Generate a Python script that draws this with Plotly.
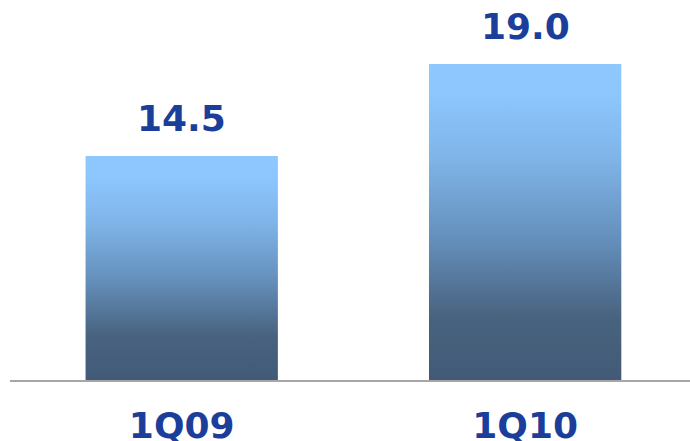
import plotly.graph_objects as go

# Quarterly values
categories = ["1Q09", "1Q10"]
values = [14.5, 19.0]
value_labels = ["14.5", "19.0"]

# Styling
label_color = "#1B3E9B"
font_family = "DejaVu Sans, Verdana, sans-serif"
axis_floor = 3.54          # value axis starts above zero
bar_width = 0.56
gradient = [
    [0.0, "#425A77"],
    [0.2, "#48637F"],
    [0.45, "#6590BC"],
    [0.7, "#7FB4E8"],
    [0.9, "#8CC6FD"],
    [1.0, "#8EC8FF"],
]

fig = go.Figure()

for i, (cat, v) in enumerate(zip(categories, values)):
    left, right = i - bar_width / 2, i + bar_width / 2
    fig.add_trace(go.Scatter(
        x=[left, right, right, left, left],
        y=[axis_floor, axis_floor, v, v, axis_floor],
        mode="lines",
        line=dict(width=0),
        fill="toself",
        fillgradient=dict(type="vertical", colorscale=gradient),
        name=cat,
        hoverinfo="skip",
        showlegend=False,
    ))
    fig.add_annotation(
        x=i, y=v, text=f"<b>{value_labels[i]}</b>",
        showarrow=False, yanchor="bottom", yshift=15,
        font=dict(family=font_family, size=36, color=label_color),
    )

fig.update_layout(
    width=690, height=441,
    margin=dict(l=0, r=0, t=0, b=61),
    paper_bgcolor="white", plot_bgcolor="white",
    showlegend=False,
    xaxis=dict(
        domain=[10 / 690, 1],
        range=[-0.5, 1.48],
        tickvals=list(range(len(categories))),
        ticktext=[f"<b>{c}</b>" for c in categories],
        tickfont=dict(family=font_family, size=36, color=label_color),
        ticks="outside", ticklen=13, tickcolor="rgba(0,0,0,0)",
        automargin=False,
        showline=True, linecolor="#A6A6A6", linewidth=2,
        showgrid=False, zeroline=False, fixedrange=True,
    ),
    yaxis=dict(
        range=[axis_floor, 22.13],
        visible=False, showgrid=False, zeroline=False, fixedrange=True,
        automargin=False,
    ),
)

fig.write_html("out.html")
